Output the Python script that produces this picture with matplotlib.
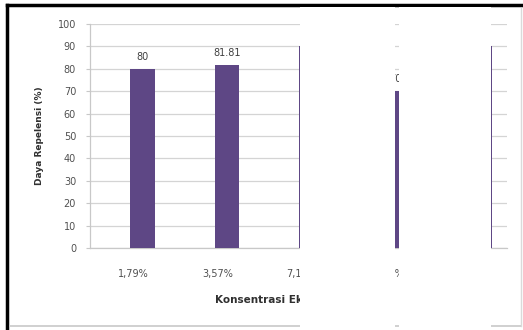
import matplotlib
matplotlib.use("Agg")
import matplotlib.pyplot as plt
import matplotlib.patches as patches
from matplotlib.lines import Line2D
import numpy as np

# data
kategori = ["1,79%", "3,57%", "7,14%", "14,28%", "28,57%"]
daya_repelensi = [80, 81.81, 90, 70, 90]
label_nilai = ["80", "81.81", "90", "70", "90"]

W, H = 523, 330
plt.rcParams['font.family'] = ['DejaVu Sans']

fig = plt.figure(figsize=(W / 100, H / 100), dpi=100)
fig.patch.set_facecolor('white')

# plot area in pixels: x 90..507, y 24..248
ax = fig.add_axes([90 / W, 1 - 248 / H, (507 - 90) / W, (248 - 24) / H])

posisi = np.arange(len(kategori))
ax.bar(posisi, daya_repelensi, width=0.285, color='#5E4785', zorder=3)

for x, y, t in zip(posisi, daya_repelensi, label_nilai):
    ax.annotate(t, (x, y), xytext=(0, 5), textcoords='offset points',
                ha='center', va='bottom', fontsize=7, color='#404040')

ax.set_ylim(0, 100)
ax.set_xlim(-0.623, 4.326)
ax.set_yticks(np.arange(0, 101, 10))
ax.grid(axis='y', color='#D4D4D4', linewidth=0.9, zorder=0)
ax.set_axisbelow(True)

# labels sit a little left of the bars, like in the source
ax.set_xticks(posisi - 0.11)
ax.set_xticklabels(kategori)
ax.tick_params(axis='x', length=0, pad=15, labelsize=7, labelcolor='#505050')
ax.tick_params(axis='y', length=3, color='#C8C8C8', pad=7, labelsize=7, labelcolor='#505050')

for s in ['top', 'right']:
    ax.spines[s].set_visible(False)
for s in ['left', 'bottom']:
    ax.spines[s].set_color('#C8C8C8')
    ax.spines[s].set_linewidth(0.9)

ax.set_ylabel('Daya Repelensi (%)', fontsize=6.5, fontweight='bold', color='#303030', labelpad=10)
ax.set_xlabel('Konsentrasi Ekstrak Daun (%)', fontsize=7.5, fontweight='bold', color='#303030')
ax.xaxis.set_label_coords((215 - 90) / 417, -(300 - 248) / 224)
ax.xaxis.label.set_horizontalalignment('left')
ax.xaxis.label.set_verticalalignment('center')

# outer frame of the screenshot
fig.add_artist(Line2D([7 / W, 1], [1 - 5 / H, 1 - 5 / H], transform=fig.transFigure, color='black', linewidth=2.5))
fig.add_artist(Line2D([7 / W, 7 / W], [0, 1 - 5 / H], transform=fig.transFigure, color='black', linewidth=2.5))
fig.add_artist(Line2D([10 / W, 521 / W], [1 - 326 / H, 1 - 326 / H], transform=fig.transFigure, color='#C8C8C8', linewidth=1.2))
fig.add_artist(Line2D([521 / W, 521 / W], [1 - 326 / H, 1 - 8 / H], transform=fig.transFigure, color='#DADADA', linewidth=1.0))

# white blocks that cover the middle of the picture
for x0, x1 in [(300, 395), (399, 491)]:
    fig.add_artist(patches.Rectangle((x0 / W, 0), (x1 - x0) / W, 1 - 7 / H,
                                     transform=fig.transFigure, facecolor='white',
                                     edgecolor='none', zorder=10))

fig.savefig('out.png', dpi=100)
